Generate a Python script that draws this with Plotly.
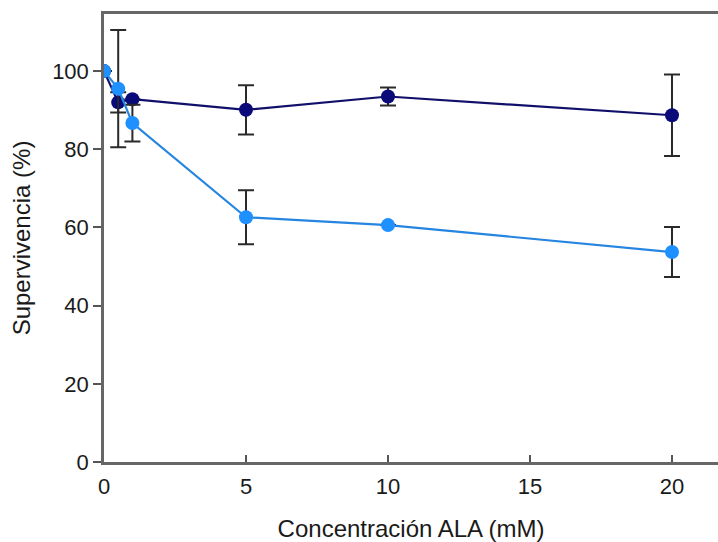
import plotly.graph_objects as go

conc = [0, 0.5, 1, 5, 10, 20]
dark_vals = [100, 92.0, 92.8, 90.1, 93.5, 88.7]
dark_err = [0, 2.6, 0, 6.3, 2.3, 10.4]
light_vals = [100, 95.5, 86.7, 62.6, 60.6, 53.7]
light_err = [0, 15.0, 4.7, 6.9, 0, 6.4]
x_ticks = [0, 5, 10, 15, 20]
y_ticks = [0, 20, 40, 60, 80, 100]

FONT = "Liberation Sans, Arial, sans-serif"

fig = go.Figure()
fig.add_trace(go.Scatter(
    x=conc, y=dark_vals, mode="lines+markers",
    line=dict(color="#10106a", width=2.2),
    marker=dict(color="#0a0a78", size=14),
    error_y=dict(type="data", array=dark_err, visible=True,
                 color="#2a2a2a", thickness=2, width=8),
    showlegend=False,
))
fig.add_trace(go.Scatter(
    x=conc, y=light_vals, mode="lines+markers",
    line=dict(color="#2585e0", width=2.2),
    marker=dict(color="#1e90ff", size=14),
    error_y=dict(type="data", array=light_err, visible=True,
                 color="#2a2a2a", thickness=2, width=8),
    showlegend=False,
))

fig.update_layout(
    width=718, height=542,
    margin=dict(l=104, r=0, t=14, b=80),
    paper_bgcolor="white", plot_bgcolor="white",
    font=dict(family=FONT, color="#1a1a1a", size=22),
    xaxis=dict(
        range=[0, 21.62], tickvals=x_ticks, ticks="inside", ticklen=7,
        tickwidth=1.5, tickcolor="#555",
        showline=True, linecolor="#666", linewidth=2.5, mirror=True,
        showgrid=False, zeroline=False,
        tickfont=dict(size=22), ticklabelstandoff=3,
        title=dict(text="Concentración ALA (mM)", font=dict(size=24), standoff=26),
    ),
    yaxis=dict(
        range=[0, 114.6], tickvals=y_ticks, ticks="outside", ticklen=8,
        tickwidth=1.5, tickcolor="#555",
        showline=True, linecolor="#666", linewidth=2.5,
        showgrid=False, zeroline=False,
        tickfont=dict(size=22),
        title=dict(text="Supervivencia (%)", font=dict(size=24), standoff=15),
    ),
)

fig.write_html("out.html")
